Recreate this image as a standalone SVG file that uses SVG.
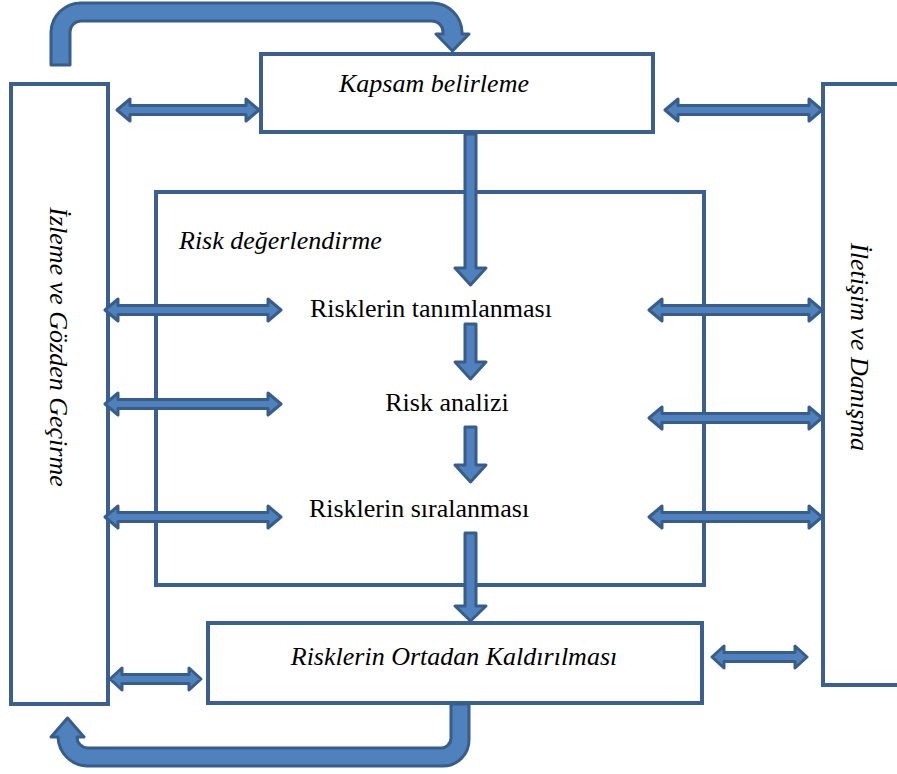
<svg xmlns="http://www.w3.org/2000/svg" width="897" height="774" viewBox="0 0 897 774">
<style>
.box{fill:none;stroke:#3b5f8e;stroke-width:4}
.arr{fill:#4f81bd;stroke:#385d8a;stroke-width:3;stroke-linejoin:round}
.t{font-family:"Liberation Serif","Times New Roman",serif;font-size:26px;fill:#000}
.i{font-style:italic}
</style>
<rect width="897" height="774" fill="#fff"/>
<g id="izleme">
<rect class="box" x="11" y="84" width="97" height="620"/>
<text class="t i" transform="translate(50,347) rotate(90)" text-anchor="middle">İzleme ve Gözden Geçirme</text>
</g>
<g id="iletisim">
<rect class="box" x="823" y="84" width="110" height="601"/>
<text class="t i" transform="translate(851,347) rotate(90)" text-anchor="middle">İletişim ve Danışma</text>
</g>
<g id="kapsam">
<rect class="box" x="261" y="54" width="392" height="78"/>
<text class="t i" x="434" y="92" text-anchor="middle">Kapsam belirleme</text>
</g>
<g id="risk-degerlendirme">
<rect class="box" x="156" y="192" width="548" height="393"/>
<text class="t i" x="179" y="249">Risk değerlendirme</text>
</g>
<g id="tanimlama"><text class="t" x="431" y="317" text-anchor="middle">Risklerin tanımlanması</text></g>
<g id="analiz"><text class="t" x="447" y="411" text-anchor="middle">Risk analizi</text></g>
<g id="siralama"><text class="t" x="419" y="517" text-anchor="middle">Risklerin sıralanması</text></g>
<g id="ortadan-kaldirma">
<rect class="box" x="208" y="623" width="494" height="80"/>
<text class="t i" x="454" y="665" text-anchor="middle">Risklerin Ortadan Kaldırılması</text>
</g>
<g id="connectors">
<!-- double arrows -->
<path class="arr" d="M117,110 L130,99 L130,105.5 L246,105.5 L246,99 L259,110 L246,121 L246,114.5 L130,114.5 L130,121 Z"/>
<path class="arr" d="M665,110 L678,99 L678,105.5 L809,105.5 L809,99 L822,110 L809,121 L809,114.5 L678,114.5 L678,121 Z"/>
<path class="arr" d="M105,310 L118,299 L118,305.5 L268,305.5 L268,299 L281,310 L268,321 L268,314.5 L118,314.5 L118,321 Z"/>
<path class="arr" d="M649,310 L662,299 L662,305.5 L809,305.5 L809,299 L822,310 L809,321 L809,314.5 L662,314.5 L662,321 Z"/>
<path class="arr" d="M105,404 L118,393 L118,399.5 L268,399.5 L268,393 L281,404 L268,415 L268,408.5 L118,408.5 L118,415 Z"/>
<path class="arr" d="M649,418 L662,407 L662,413.5 L809,413.5 L809,407 L822,418 L809,429 L809,422.5 L662,422.5 L662,429 Z"/>
<path class="arr" d="M105,517 L118,506 L118,512.5 L268,512.5 L268,506 L281,517 L268,528 L268,521.5 L118,521.5 L118,528 Z"/>
<path class="arr" d="M649,517 L662,506 L662,512.5 L809,512.5 L809,506 L822,517 L809,528 L809,521.5 L662,521.5 L662,528 Z"/>
<path class="arr" d="M110,679 L122,668 L122,674.5 L189,674.5 L189,668 L201,679 L189,690 L189,683.5 L122,683.5 L122,690 Z"/>
<path class="arr" d="M712,657 L724,646 L724,652.5 L795,652.5 L795,646 L807,657 L795,668 L795,661.5 L724,661.5 L724,668 Z"/>
<!-- down arrows -->
<path class="arr" d="M465,134 L476,134 L476,268 L486,268 L470.5,285 L455,268 L465,268 Z"/>
<path class="arr" d="M465,324 L476,324 L476,362 L486,362 L470.5,379 L455,362 L465,362 Z"/>
<path class="arr" d="M465,427 L476,427 L476,465 L486,465 L470.5,482 L455,465 L465,465 Z"/>
<path class="arr" d="M465,533 L476,533 L476,606 L486,606 L470.5,621 L455,606 L465,606 Z"/>
<!-- U-turn arrows -->
<path class="arr" d="M51,65 L51,32 A30,30 0 0 1 81,3 L433,3 A30,30 0 0 1 462,32 L462,34 L469,34 L452.5,51 L436,34 L443,34 L443,32 A11,11 0 0 0 432,21 L81,21 A11,11 0 0 0 70,32 L70,65 Z"/>
<path class="arr" d="M451,704 L469,704 L469,740 A26,26 0 0 1 443,766 L87,766 A30,30 0 0 1 58,737 L51,737 L67.5,718 L84,737 L77,737 A11,11 0 0 0 88,748 L440,748 A10,10 0 0 0 451,738 Z"/>
</g>
</svg>
